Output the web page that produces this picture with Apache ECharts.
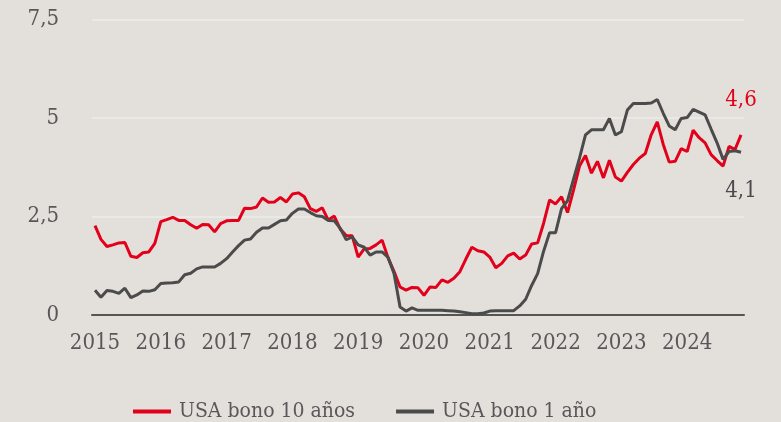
<!DOCTYPE html>
<html>
<head>
<meta charset="utf-8">
<script src="https://cdn.jsdelivr.net/npm/echarts@6/dist/echarts.min.js"></script>
<style>
  html, body { margin: 0; padding: 0; background: #e3e0dc; }
  #chart { width: 781px; height: 422px; }
</style>
</head>
<body>
<div id="chart"></div>
<script>
// Monthly observations, December 2015 to December 2024
var months = [];
for (var y = 2015; y <= 2024; y++) {
  for (var m = 1; m <= 12; m++) {
    if (y === 2015 && m < 12) continue;
    months.push(y + '-' + (m < 10 ? '0' + m : m));
  }
}

var seriesNames = ['USA bono 10 años', 'USA bono 1 año'];

var bono10 = [
  2.27,
  1.92, 1.74, 1.78, 1.83, 1.84, 1.49, 1.46, 1.58, 1.60, 1.82, 2.37, 2.42,
  2.48, 2.40, 2.40, 2.29, 2.20, 2.30, 2.29, 2.11, 2.32, 2.39, 2.40, 2.40,
  2.71, 2.70, 2.74, 2.97, 2.86, 2.87, 2.98, 2.87, 3.07, 3.10, 3.00, 2.70,
  2.63, 2.72, 2.41, 2.51, 2.18, 2.02, 2.01, 1.47, 1.68, 1.69, 1.78, 1.90,
  1.45, 1.10, 0.71, 0.63, 0.70, 0.69, 0.50, 0.71, 0.70, 0.89, 0.83, 0.93,
  1.10, 1.42, 1.72, 1.63, 1.60, 1.47, 1.20, 1.31, 1.50, 1.57, 1.42, 1.52,
  1.80, 1.83, 2.33, 2.92, 2.82, 3.00, 2.60, 3.17, 3.78, 4.05, 3.60, 3.90,
  3.48, 3.93, 3.50, 3.40, 3.62, 3.82, 3.98, 4.10, 4.58, 4.90, 4.33, 3.88,
  3.90, 4.22, 4.15, 4.69, 4.50, 4.37, 4.07, 3.92, 3.78, 4.28, 4.20, 4.57
];

var bono1 = [
  0.63,
  0.45, 0.62, 0.60, 0.55, 0.68, 0.44, 0.51, 0.61, 0.60, 0.64, 0.80, 0.81,
  0.82, 0.84, 1.02, 1.06, 1.17, 1.22, 1.22, 1.22, 1.31, 1.43, 1.60, 1.76,
  1.90, 1.93, 2.10, 2.21, 2.21, 2.30, 2.39, 2.41, 2.58, 2.69, 2.69, 2.60,
  2.52, 2.50, 2.40, 2.39, 2.20, 1.91, 1.98, 1.78, 1.72, 1.52, 1.60, 1.60,
  1.46, 1.05, 0.20, 0.10, 0.18, 0.12, 0.12, 0.12, 0.12, 0.12, 0.11, 0.10,
  0.08, 0.06, 0.03, 0.03, 0.05, 0.10, 0.11, 0.11, 0.11, 0.11, 0.23, 0.40,
  0.75, 1.05, 1.62, 2.09, 2.09, 2.70, 2.90, 3.45, 3.98, 4.57, 4.70, 4.70,
  4.70, 4.99, 4.57, 4.65, 5.20, 5.37, 5.37, 5.37, 5.38, 5.47, 5.12, 4.80,
  4.70, 4.99, 5.01, 5.22, 5.15, 5.08, 4.72, 4.37, 3.95, 4.15, 4.17, 4.13
];

var yTicks = { min: 0, max: 7.5, step: 2.5 };

var RED = '#e2001a';
var GREY = '#4b4b4b';
var TXT = '#585858';
var FONT = "'DejaVu Serif Condensed', 'DejaVu Serif', serif";

function comma(v) { return String(v).replace('.', ','); }

function endMark(arr, color, pos, dist) {
  var last = arr.length - 1;
  return {
    silent: true,
    symbol: 'circle',
    symbolSize: 0,
    itemStyle: { color: 'rgba(0,0,0,0)' },
    data: [{ coord: [months[last], arr[last]], value: arr[last] }],
    label: {
      show: true, position: pos, distance: dist,
      formatter: function (p) { return comma(Number(p.value).toFixed(1)); },
      color: color, fontFamily: FONT, fontSize: 22
    }
  };
}

var chart = echarts.init(document.getElementById('chart'), null, { renderer: 'canvas' });
chart.setOption({
  backgroundColor: '#e3e0dc',
  animation: false,
  grid: { left: 92, right: 37, top: 19.5, bottom: 107, containLabel: false },
  legend: {
    data: seriesNames,
    left: 128, top: 396,
    icon: 'rect', itemWidth: 38, itemHeight: 4, itemGap: 41,
    textStyle: { color: TXT, fontFamily: FONT, fontSize: 21, padding: [0, 0, 0, 3] }
  },
  xAxis: {
    type: 'category',
    data: months,
    boundaryGap: true,
    axisLine: { show: true, lineStyle: { color: '#555555', width: 2 } },
    axisTick: { show: false },
    axisLabel: {
      interval: 10,
      margin: 17,
      color: TXT, fontFamily: FONT, fontSize: 22,
      formatter: function (v) { return v.slice(0, 4); }
    },
    splitLine: { show: false }
  },
  yAxis: {
    type: 'value',
    min: yTicks.min, max: yTicks.max, interval: yTicks.step,
    axisLine: { show: false },
    axisTick: { show: false },
    axisLabel: {
      margin: 33, color: TXT, fontFamily: FONT, fontSize: 22,
      formatter: function (v) { return comma(v); }
    },
    splitLine: { lineStyle: { color: '#eeece9', width: 1.5 } }
  },
  series: [
    {
      name: seriesNames[0], type: 'line', data: bono10,
      showSymbol: false, symbol: 'none',
      lineStyle: { color: RED, width: 3 }, itemStyle: { color: RED },
      markPoint: endMark(bono10, RED, 'top', 24)
    },
    {
      name: seriesNames[1], type: 'line', data: bono1,
      showSymbol: false, symbol: 'none',
      lineStyle: { color: GREY, width: 3 }, itemStyle: { color: GREY },
      markPoint: endMark(bono1, GREY, 'bottom', 28)
    }
  ]
});
</script>
</body>
</html>
